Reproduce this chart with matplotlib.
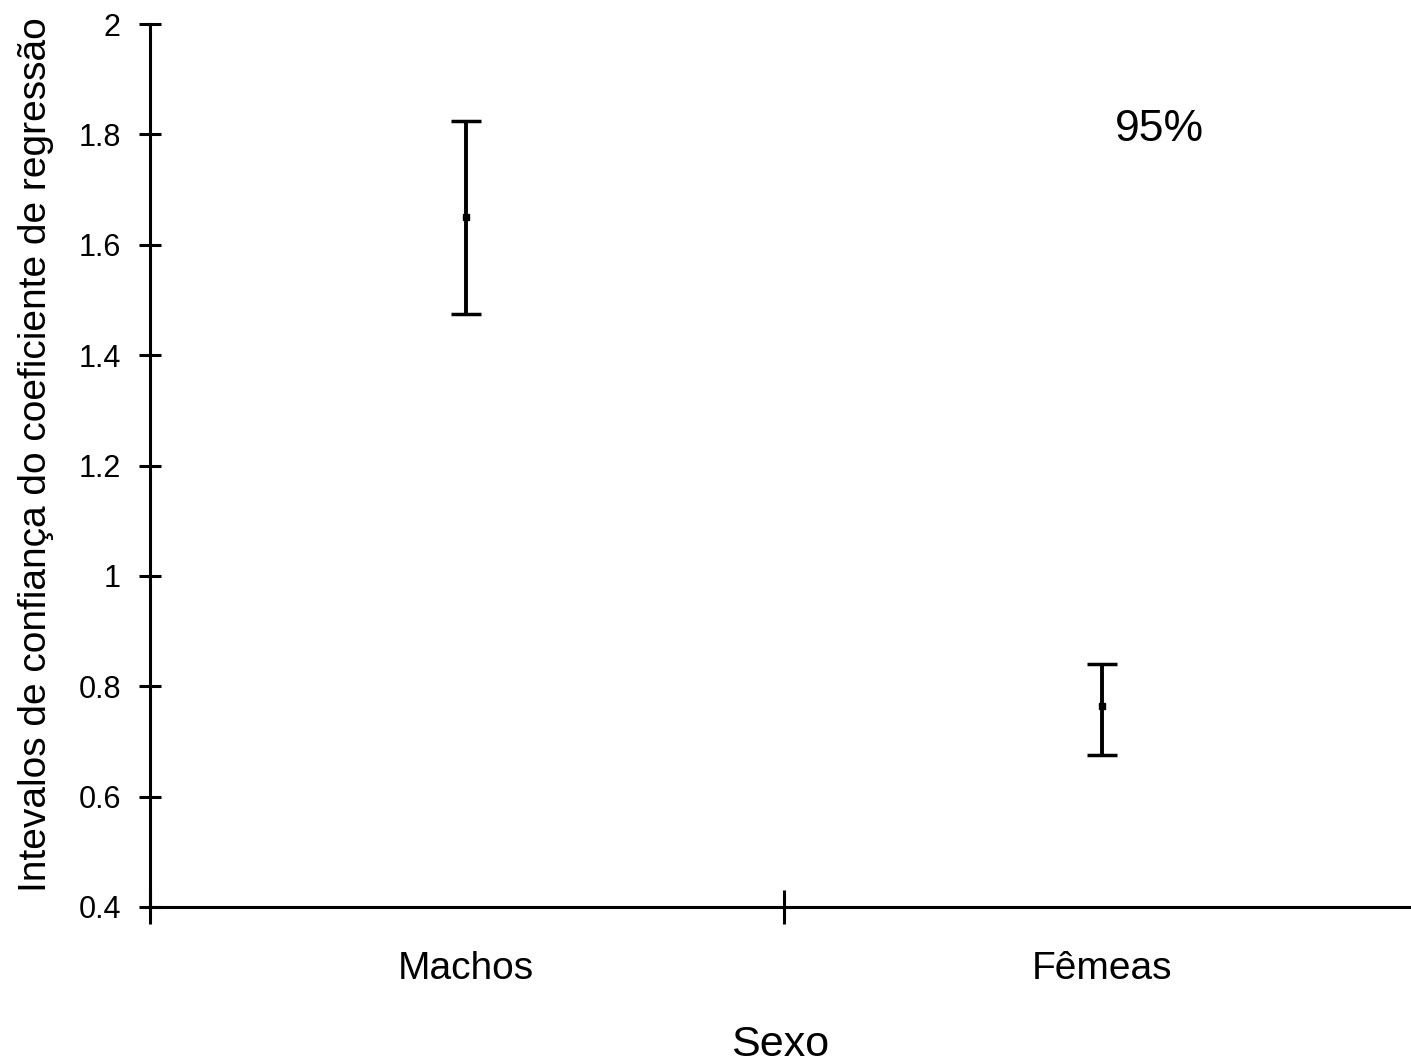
import matplotlib.pyplot as plt
import numpy as np

# data
categories = ['Machos', 'Fêmeas']
centers = [1.651, 0.764]
upper = [1.825, 0.840]
lower = [1.475, 0.676]
y_ticks = [0.4, 0.6, 0.8, 1.0, 1.2, 1.4, 1.6, 1.8, 2.0]
y_tick_labels = ['0.4', '0.6', '0.8', '1', '1.2', '1.4', '1.6', '1.8', '2']

plt.rcParams['font.family'] = ['Liberation Sans', 'DejaVu Sans']

fig = plt.figure(figsize=(14.11, 10.64), dpi=100)
ax = fig.add_axes([150 / 1411, (1064 - 907) / 1064, (1411 - 150) / 1411, (907 - 24) / 1064])

x = np.arange(1, len(categories) + 1)
c = np.array(centers)
yerr = [c - np.array(lower), np.array(upper) - c]
ax.errorbar(x, c, yerr=yerr, fmt='s', color='black', markersize=4,
            elinewidth=2.8, capsize=11, capthick=2.5, ecolor='black')

x_left, x_right = 0.503, 2.486
ax.set_xlim(x_left, x_right)
ax.set_ylim(0.4, 2.0)

ax.set_yticks(y_ticks)
ax.set_yticklabels(y_tick_labels, fontsize=22)
ax.tick_params(axis='y', direction='inout', length=16, width=2.2, pad=13)

ax.set_xticks([x_left, 1.5])
ax.set_xticklabels(['', ''])
ax.set_xticks(x, minor=True)
ax.set_xticklabels(categories, minor=True, fontsize=28)
ax.tick_params(axis='x', which='major', direction='inout', length=24, width=2.2)
ax.tick_params(axis='x', which='minor', length=0, pad=32)

for s in ['top', 'right']:
    ax.spines[s].set_visible(False)
for s in ['left', 'bottom']:
    ax.spines[s].set_linewidth(2.2)

ax.set_xlabel('Sexo', fontsize=31, labelpad=27)
ax.set_ylabel('Intevalos de confiança do coeficiente de regressão', fontsize=28)
ax.yaxis.set_label_coords(-0.076, 0.512)

ax.text(2.09, 1.808, '95%', fontsize=32, ha='center', va='center')

fig.savefig('out.png', dpi=100)
